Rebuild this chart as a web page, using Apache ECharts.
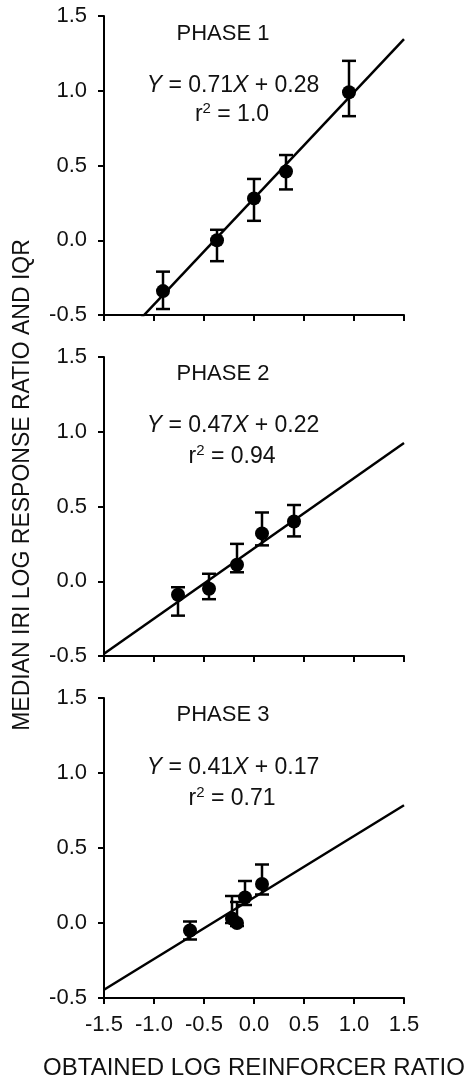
<!DOCTYPE html>
<html>
<head>
<meta charset="utf-8">
<script src="https://cdn.jsdelivr.net/npm/echarts@6/dist/echarts.min.js"></script>
<style>
  html, body { margin: 0; padding: 0; background: #fff; }
  #main { width: 467px; height: 1082px; }
</style>
</head>
<body>
<div id="main"></div>
<script>
// x ticks / y ticks
var xTicks = [-1.5, -1.0, -0.5, 0.0, 0.5, 1.0, 1.5];
var yTicks = [-0.5, 0.0, 0.5, 1.0, 1.5];

// phase 1
var phase1X  = [-0.91, -0.37, 0.00, 0.32, 0.95];
var phase1Y  = [-0.34,  0.00, 0.28, 0.46, 0.99];
var phase1Lo = [-0.46, -0.14, 0.13, 0.34, 0.83];
var phase1Hi = [-0.21,  0.07, 0.41, 0.57, 1.20];

// phase 2
var phase2X  = [-0.76, -0.45, -0.17, 0.08, 0.40];
var phase2Y  = [-0.09, -0.05,  0.11, 0.32, 0.40];
var phase2Lo = [-0.23, -0.12,  0.06, 0.24, 0.30];
var phase2Hi = [-0.04,  0.05,  0.25, 0.46, 0.51];

// phase 3
var phase3X  = [-0.64, -0.22, -0.17, -0.09, 0.08];
var phase3Y  = [-0.05,  0.03,  0.00,  0.17, 0.26];
var phase3Lo = [-0.11,  0.00, -0.02,  0.12, 0.19];
var phase3Hi = [ 0.01,  0.18,  0.14,  0.28, 0.39];

// fitted lines
var slopes = [0.71, 0.47, 0.41];
var intercepts = [0.28, 0.22, 0.17];
var phaseNames = ['PHASE 1', 'PHASE 2', 'PHASE 3'];
var r2Labels = ['1.0', '0.94', '0.71'];

var FONT = '"Liberation Sans", Arial, sans-serif';
var INK = '#000';

var phases = [
  { x: phase1X, y: phase1Y, lo: phase1Lo, hi: phase1Hi },
  { x: phase2X, y: phase2Y, lo: phase2Lo, hi: phase2Hi },
  { x: phase3X, y: phase3Y, lo: phase3Lo, hi: phase3Hi }
];

var gridTops = [16, 357, 698];
var gridHeights = [299, 299, 300];

var grids = [], xAxes = [], yAxes = [], series = [], graphics = [];

// text rows (centre y) for each panel
var phaseTextY = [34, 374, 715];
var eqTextY = [86, 426, 768];
var r2TextY = [115, 457, 799];

for (var i = 0; i < 3; i++) {
  grids.push({ left: 104, top: gridTops[i], width: 300, height: gridHeights[i] });

  xAxes.push({
    gridIndex: i,
    type: 'value',
    min: xTicks[0], max: xTicks[xTicks.length - 1], interval: 0.5,
    axisLine: { show: true, onZero: false, lineStyle: { color: INK, width: 2 } },
    axisTick: { show: true, length: 6, lineStyle: { color: INK, width: 2 } },
    splitLine: { show: false },
    axisLabel: {
      show: i === 2, margin: 16, fontSize: 22, fontFamily: FONT, color: '#111',
      formatter: function (v) { return v.toFixed(1); }
    }
  });

  yAxes.push({
    gridIndex: i,
    type: 'value',
    min: yTicks[0], max: yTicks[yTicks.length - 1], interval: 0.5,
    axisLine: { show: true, onZero: false, lineStyle: { color: INK, width: 2 } },
    axisTick: { show: true, length: 6, lineStyle: { color: INK, width: 2 } },
    splitLine: { show: false },
    axisLabel: {
      margin: 17, fontSize: 22, fontFamily: FONT, color: '#111',
      formatter: function (v) { return v.toFixed(1); }
    }
  });

  var p = phases[i];
  var pts = [], bars = [];
  for (var k = 0; k < p.x.length; k++) {
    pts.push([p.x[k], p.y[k]]);
    bars.push([p.x[k], p.lo[k], p.hi[k]]);
  }

  // regression line
  series.push({
    type: 'line',
    xAxisIndex: i, yAxisIndex: i,
    data: [
      [xTicks[0], slopes[i] * xTicks[0] + intercepts[i]],
      [xTicks[6], slopes[i] * xTicks[6] + intercepts[i]]
    ],
    symbol: 'none',
    clip: true,
    lineStyle: { color: INK, width: 2.5 },
    silent: true,
    z: 1
  });

  // IQR bars
  series.push({
    type: 'custom',
    xAxisIndex: i, yAxisIndex: i,
    data: bars,
    z: 2,
    renderItem: function (params, api) {
      var x = api.value(0);
      var top = api.coord([x, api.value(2)]);
      var bot = api.coord([x, api.value(1)]);
      var hw = 7;
      var st = { stroke: INK, lineWidth: 2.5 };
      return {
        type: 'group',
        children: [
          { type: 'line', shape: { x1: top[0], y1: top[1], x2: bot[0], y2: bot[1] }, style: st },
          { type: 'line', shape: { x1: top[0] - hw, y1: top[1], x2: top[0] + hw, y2: top[1] }, style: st },
          { type: 'line', shape: { x1: bot[0] - hw, y1: bot[1], x2: bot[0] + hw, y2: bot[1] }, style: st }
        ]
      };
    }
  });

  // medians
  series.push({
    type: 'scatter',
    xAxisIndex: i, yAxisIndex: i,
    data: pts,
    symbol: 'circle',
    symbolSize: 14,
    itemStyle: { color: INK, opacity: 1 },
    z: 3
  });

  graphics.push({
    type: 'text', x: 223, y: phaseTextY[i],
    style: { text: phaseNames[i], font: '22px ' + FONT, fill: '#111', textAlign: 'center', textVerticalAlign: 'middle' }
  });
  graphics.push({
    type: 'text', x: 233, y: eqTextY[i],
    style: {
      text: '{i|Y} = ' + slopes[i].toFixed(2) + '{i|X} + ' + intercepts[i].toFixed(2),
      fontSize: 23, fontFamily: FONT, fill: '#111',
      textAlign: 'center', textVerticalAlign: 'middle',
      rich: { i: { fontStyle: 'italic', fontSize: 23, fontFamily: FONT, fill: '#111' } }
    }
  });
  graphics.push({
    type: 'text', x: 232, y: r2TextY[i],
    style: {
      text: 'r{s|2} = ' + r2Labels[i],
      fontSize: 23, fontFamily: FONT, fill: '#111',
      textAlign: 'center', textVerticalAlign: 'middle',
      rich: { s: { fontSize: 15, fontFamily: FONT, fill: '#111', verticalAlign: 'top', lineHeight: 27 } }
    }
  });
}

// axis titles
graphics.push({
  type: 'text', x: 23, y: 485, rotation: Math.PI / 2,
  style: { text: 'MEDIAN IRI LOG RESPONSE RATIO AND IQR', font: '23px ' + FONT, fill: '#111', textAlign: 'center', textVerticalAlign: 'middle' }
});
graphics.push({
  type: 'text', x: 254, y: 1068,
  style: { text: 'OBTAINED LOG REINFORCER RATIO', font: '24px ' + FONT, fill: '#111', textAlign: 'center', textVerticalAlign: 'middle' }
});

var chart = echarts.init(document.getElementById('main'));
chart.setOption({
  animation: false,
  backgroundColor: '#fff',
  grid: grids,
  xAxis: xAxes,
  yAxis: yAxes,
  series: series,
  graphic: graphics
});
</script>
</body>
</html>
